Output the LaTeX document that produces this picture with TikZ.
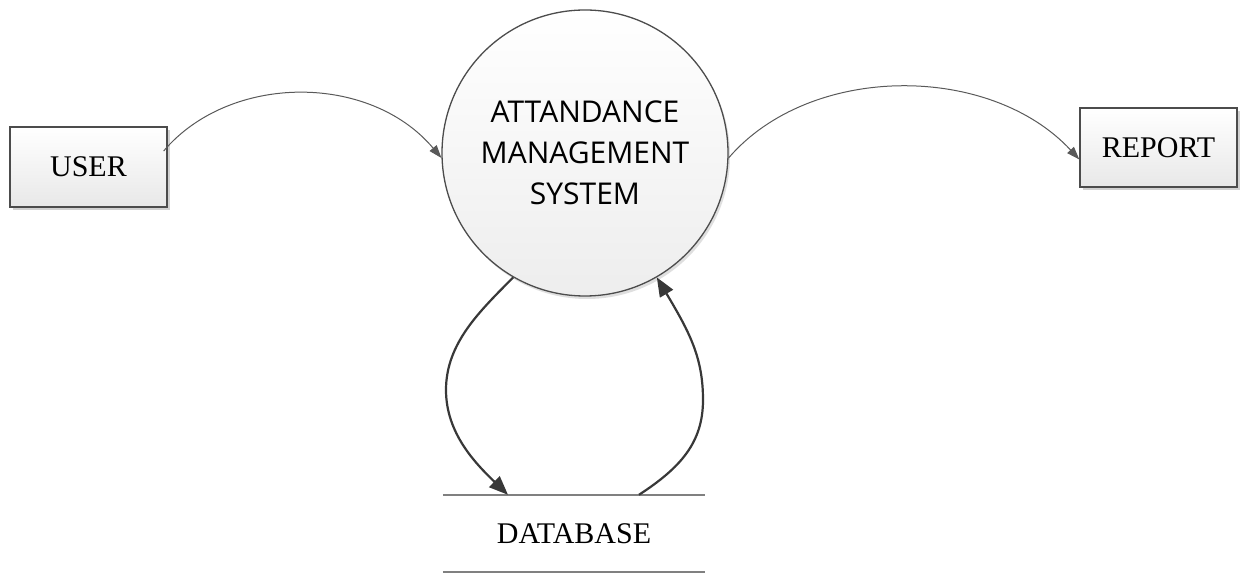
\documentclass[tikz,border=0pt]{standalone}
\usepackage{fontspec}
\setmainfont{Liberation Serif}
\newfontfamily\procfont{Open Sans}
\usetikzlibrary{arrows.meta,shadows}
\begin{document}
\begin{tikzpicture}[x=1pt,y=1pt,
  entity/.style={draw=black!70, line width=1.3pt, shade, top color=white, bottom color=black!9,
    minimum width=157pt, minimum height=80pt, inner sep=0pt,
    drop shadow={shadow xshift=3pt, shadow yshift=-3pt, fill=black!30, opacity=.6},
    font=\fontsize{30}{36}\selectfont},
  process/.style={circle, draw=black!70, line width=1.3pt, shade, top color=white, bottom color=black!7,
    minimum size=286pt, inner sep=0pt, align=center,
    drop shadow={shadow xshift=2pt, shadow yshift=-3pt, fill=black!25, opacity=.5},
    font=\procfont\fontsize{30}{41}\selectfont},
  thinflow/.style={draw=black!65, line width=1pt, -{Triangle[length=13pt,width=9pt]}},
  thickflow/.style={draw=black!78, line width=2.2pt, -{Triangle[length=19pt,width=15pt]}},
  storeline/.style={draw=black!50, line width=2pt},
  store/.style={minimum width=262pt, minimum height=77pt, inner sep=0pt,
    font=\fontsize{30}{36}\selectfont}
]
\useasboundingbox (0,0) rectangle (1248,573);
\node[entity] (user) at (88.5,406) {USER};
\node[entity, minimum height=79pt] (report) at (1158.5,425.5) {REPORT};
\node[process] (ams) at (585,420) {ATTANDANCE\\MANAGEMENT\\SYSTEM};
\node[store] (db) at (574,39.5) {DATABASE};
\draw[storeline] (db.north west) -- (db.north east);
\draw[storeline] (db.south west) -- (db.south east);

\draw[thinflow] ([xshift=-4pt,yshift=16pt]user.east) .. controls (230,500) and (370,500) .. (ams.182);
\draw[thinflow] (ams.-2) .. controls (810,510) and (990,510) .. ([yshift=-12pt]report.west);

\draw[thickflow] (ams.240) .. controls (480,262) and (446,230) .. (446,183)
  .. controls (446,140) and (475,110) .. ([xshift=-66pt]db.north);
\draw[thickflow] ([xshift=65pt]db.north) .. controls (680,105) and (703,130) .. (703,173)
  .. controls (703,215) and (690,240) .. (ams.300);
\end{tikzpicture}
\end{document}
